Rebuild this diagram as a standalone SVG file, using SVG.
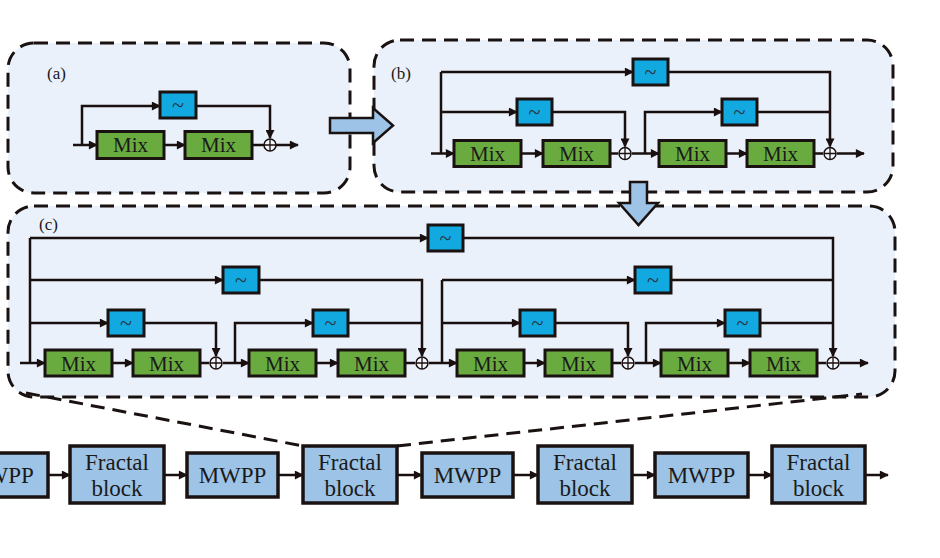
<svg xmlns="http://www.w3.org/2000/svg" width="940" height="558" viewBox="0 0 940 558">
<defs>
<marker id="ah" viewBox="0 0 10 10" refX="9" refY="5" markerWidth="10" markerHeight="9" markerUnits="userSpaceOnUse" orient="auto"><path d="M0,0 L10,5 L0,10 z" fill="#1a0f0f"/></marker>
<style>
.panel{fill:#eaf1fa;stroke:#1a1210;stroke-width:3;stroke-dasharray:14 8}
.dash{fill:none;stroke:#1a1210;stroke-width:3;stroke-dasharray:14 8}
.mix{fill:#6aab40;stroke:#1a1210;stroke-width:3}
.sk{fill:#12a8e0;stroke:#1a1210;stroke-width:3}
.blk{fill:#9dc3e6;stroke:#1a1210;stroke-width:3.5}
.ln{fill:none;stroke:#1a0f0f;stroke-width:2.5}
.ar{fill:none;stroke:#1a0f0f;stroke-width:2.5;marker-end:url(#ah)}
.sum{fill:#f4f7fb;stroke:#1a0f0f;stroke-width:1.5}
.t{font-family:"Liberation Serif",serif;fill:#1a1a1a;text-anchor:middle}
.mt{font-size:21px}
.tt{font-size:22px;fill:#2a3540}
.bt{font-size:23px}
.lab{font-family:"Liberation Serif",serif;font-size:17px;fill:#1a1a1a}
.big{fill:#9dc3e6;stroke:#1a1210;stroke-width:2.5}
</style>
</defs>
<rect width="940" height="558" fill="#ffffff"/>

<g id="panel-a">
<rect class="panel" x="8" y="43" width="342" height="150" rx="26"/>
<text class="lab" x="47" y="79">(a)</text>
</g>
<g id="panel-b">
<rect class="panel" x="374" y="40" width="519" height="152" rx="26"/>
<text class="lab" x="391" y="79">(b)</text>
</g>
<g id="panel-c">
<rect class="panel" x="8" y="206" width="887" height="191" rx="26"/>
<text class="lab" x="39" y="230">(c)</text>
</g>

<g id="connectors">
<!-- panel a -->
<line class="ar" x1="73" y1="145" x2="97" y2="145"/>
<polyline class="ar" points="82,145 82,106 160,106"/>
<polyline class="ar" points="196,106 270,106 270,138"/>
<line class="ar" x1="164" y1="145" x2="185" y2="145"/>
<line class="ln" x1="252" y1="145" x2="264" y2="145"/>
<line class="ar" x1="276" y1="145" x2="298" y2="145"/>
<!-- panel b -->
<line class="ar" x1="431" y1="153.5" x2="454" y2="153.5"/>
<polyline class="ln" points="441,153.5 441,72"/>
<line class="ar" x1="441" y1="72" x2="633" y2="72"/>
<polyline class="ar" points="668,72 830,72 830,146.5"/>
<line class="ar" x1="441" y1="112" x2="517" y2="112"/>
<polyline class="ar" points="552,112 625,112 625,146.5"/>
<line class="ar" x1="521" y1="153.5" x2="543" y2="153.5"/>
<line class="ln" x1="610" y1="153.5" x2="618" y2="153.5"/>
<line class="ar" x1="632" y1="153.5" x2="659" y2="153.5"/>
<polyline class="ar" points="645,153.5 645,112 722,112"/>
<line class="ln" x1="757" y1="112" x2="830" y2="112"/>
<line class="ar" x1="726" y1="153.5" x2="747" y2="153.5"/>
<line class="ln" x1="814" y1="153.5" x2="823" y2="153.5"/>
<line class="ar" x1="837" y1="153.5" x2="864" y2="153.5"/>
<!-- panel c -->
<line class="ar" x1="20" y1="363" x2="45" y2="363"/>
<line class="ln" x1="30" y1="363" x2="30" y2="238"/>
<line class="ar" x1="30" y1="238" x2="428" y2="238"/>
<polyline class="ar" points="463,238 833,238 833,356"/>
<line class="ar" x1="30" y1="280" x2="223" y2="280"/>
<polyline class="ar" points="259,280 422,280 422,356"/>
<line class="ar" x1="30" y1="323" x2="108" y2="323"/>
<polyline class="ar" points="144,323 216,323 216,356"/>
<line class="ar" x1="112" y1="363" x2="133" y2="363"/>
<line class="ln" x1="200" y1="363" x2="209" y2="363"/>
<line class="ar" x1="223" y1="363" x2="249" y2="363"/>
<polyline class="ar" points="235,363 235,323 313,323"/>
<line class="ln" x1="348" y1="323" x2="422" y2="323"/>
<line class="ar" x1="316" y1="363" x2="338" y2="363"/>
<line class="ln" x1="405" y1="363" x2="415" y2="363"/>
<line class="ar" x1="429" y1="363" x2="457" y2="363"/>
<polyline class="ln" points="442,363 442,280"/>
<line class="ar" x1="442" y1="280" x2="635" y2="280"/>
<line class="ln" x1="671" y1="280" x2="833" y2="280"/>
<line class="ar" x1="442" y1="323" x2="520" y2="323"/>
<polyline class="ar" points="555,323 628,323 628,356"/>
<line class="ar" x1="524" y1="363" x2="545" y2="363"/>
<line class="ln" x1="612" y1="363" x2="621" y2="363"/>
<line class="ar" x1="635" y1="363" x2="661" y2="363"/>
<polyline class="ar" points="646,363 646,323 725,323"/>
<line class="ln" x1="760" y1="323" x2="833" y2="323"/>
<line class="ar" x1="728" y1="363" x2="750" y2="363"/>
<line class="ln" x1="817" y1="363" x2="826" y2="363"/>
<line class="ar" x1="840" y1="363" x2="868" y2="363"/>
<!-- bottom row -->
<line class="ar" x1="48" y1="475" x2="70" y2="475"/>
<line class="ar" x1="164" y1="475" x2="187" y2="475"/>
<line class="ar" x1="278" y1="475" x2="303" y2="475"/>
<line class="ar" x1="397" y1="475" x2="422" y2="475"/>
<line class="ar" x1="513" y1="475" x2="538" y2="475"/>
<line class="ar" x1="632" y1="475" x2="655" y2="475"/>
<line class="ar" x1="748" y1="475" x2="772" y2="475"/>
<line class="ar" x1="865" y1="475" x2="888" y2="475"/>
<!-- zoom lines -->
<line class="dash" x1="26" y1="393" x2="303" y2="446"/>
<line class="dash" x1="397" y1="446" x2="862" y2="394"/>
</g>

<g id="sum-nodes">
<g id="sum-a"><circle class="sum" cx="270" cy="145" r="6"/><path class="ln" style="stroke-width:1.3" d="M264,145 h12 M270,139 v12"/></g>
<g id="sum-b1"><circle class="sum" cx="625" cy="153.5" r="6"/><path class="ln" style="stroke-width:1.3" d="M619,153.5 h12 M625,147.5 v12"/></g>
<g id="sum-b2"><circle class="sum" cx="830" cy="153.5" r="6"/><path class="ln" style="stroke-width:1.3" d="M824,153.5 h12 M830,147.5 v12"/></g>
<g id="sum-c1"><circle class="sum" cx="216" cy="363" r="6"/><path class="ln" style="stroke-width:1.3" d="M210,363 h12 M216,357 v12"/></g>
<g id="sum-c2"><circle class="sum" cx="422" cy="363" r="6"/><path class="ln" style="stroke-width:1.3" d="M416,363 h12 M422,357 v12"/></g>
<g id="sum-c3"><circle class="sum" cx="628" cy="363" r="6"/><path class="ln" style="stroke-width:1.3" d="M622,363 h12 M628,357 v12"/></g>
<g id="sum-c4"><circle class="sum" cx="833" cy="363" r="6"/><path class="ln" style="stroke-width:1.3" d="M827,363 h12 M833,357 v12"/></g>
</g>

<!-- panel a nodes -->
<g id="a-mix1"><rect class="mix" x="97" y="131.5" width="67" height="27"/><text class="t mt" x="130.5" y="152">Mix</text></g>
<g id="a-mix2"><rect class="mix" x="185" y="131.5" width="67" height="27"/><text class="t mt" x="218.5" y="152">Mix</text></g>
<g id="a-skip"><rect class="sk" x="160" y="92" width="36" height="26"/><text class="t tt" x="178" y="112">~</text></g>

<!-- panel b nodes -->
<g id="b-mix1"><rect class="mix" x="454" y="140.5" width="67" height="26"/><text class="t mt" x="487.5" y="161">Mix</text></g>
<g id="b-mix2"><rect class="mix" x="543" y="140.5" width="67" height="26"/><text class="t mt" x="576.5" y="161">Mix</text></g>
<g id="b-mix3"><rect class="mix" x="659" y="140.5" width="67" height="26"/><text class="t mt" x="692.5" y="161">Mix</text></g>
<g id="b-mix4"><rect class="mix" x="747" y="140.5" width="67" height="26"/><text class="t mt" x="780.5" y="161">Mix</text></g>
<g id="b-skip1"><rect class="sk" x="517" y="99" width="35" height="26"/><text class="t tt" x="534.5" y="119">~</text></g>
<g id="b-skip2"><rect class="sk" x="722" y="99" width="35" height="26"/><text class="t tt" x="739.5" y="119">~</text></g>
<g id="b-skip3"><rect class="sk" x="633" y="59" width="35" height="26"/><text class="t tt" x="650.5" y="79">~</text></g>

<!-- panel c nodes -->
<g id="c-mix1"><rect class="mix" x="45" y="350" width="67" height="26"/><text class="t mt" x="78.5" y="370.5">Mix</text></g>
<g id="c-mix2"><rect class="mix" x="133" y="350" width="67" height="26"/><text class="t mt" x="166.5" y="370.5">Mix</text></g>
<g id="c-mix3"><rect class="mix" x="249" y="350" width="67" height="26"/><text class="t mt" x="282.5" y="370.5">Mix</text></g>
<g id="c-mix4"><rect class="mix" x="338" y="350" width="67" height="26"/><text class="t mt" x="371.5" y="370.5">Mix</text></g>
<g id="c-mix5"><rect class="mix" x="457" y="350" width="67" height="26"/><text class="t mt" x="490.5" y="370.5">Mix</text></g>
<g id="c-mix6"><rect class="mix" x="545" y="350" width="67" height="26"/><text class="t mt" x="578.5" y="370.5">Mix</text></g>
<g id="c-mix7"><rect class="mix" x="661" y="350" width="67" height="26"/><text class="t mt" x="694.5" y="370.5">Mix</text></g>
<g id="c-mix8"><rect class="mix" x="750" y="350" width="67" height="26"/><text class="t mt" x="783.5" y="370.5">Mix</text></g>
<g id="c-skip1"><rect class="sk" x="108" y="310" width="36" height="26"/><text class="t tt" x="126" y="330">~</text></g>
<g id="c-skip2"><rect class="sk" x="313" y="310" width="35" height="26"/><text class="t tt" x="330.5" y="330">~</text></g>
<g id="c-skip3"><rect class="sk" x="520" y="310" width="35" height="26"/><text class="t tt" x="537.5" y="330">~</text></g>
<g id="c-skip4"><rect class="sk" x="725" y="310" width="35" height="26"/><text class="t tt" x="742.5" y="330">~</text></g>
<g id="c-skip5"><rect class="sk" x="223" y="267" width="36" height="26"/><text class="t tt" x="241" y="287">~</text></g>
<g id="c-skip6"><rect class="sk" x="635" y="267" width="36" height="26"/><text class="t tt" x="653" y="287">~</text></g>
<g id="c-skip7"><rect class="sk" x="428" y="225" width="35" height="26"/><text class="t tt" x="445.5" y="245">~</text></g>

<!-- big arrows -->
<g id="arrow-right"><polygon class="big" points="330,118 373,118 373,108 393,125.5 373,143 373,133 330,133"/></g>
<g id="arrow-down"><polygon class="big" points="630,182 647,182 647,203 658,203 638.5,225 619,203 630,203"/></g>

<!-- bottom row -->
<g id="mwpp0"><rect class="blk" x="-43" y="453" width="91" height="44"/><text class="t bt" x="0" y="483">MWPP</text></g>
<g id="fractal1"><rect class="blk" x="70" y="446" width="94" height="57"/><text class="t bt" x="117" y="470">Fractal</text><text class="t bt" x="117" y="496">block</text></g>
<g id="mwpp1"><rect class="blk" x="187" y="453" width="91" height="44"/><text class="t bt" x="232.5" y="483">MWPP</text></g>
<g id="fractal2"><rect class="blk" x="303" y="446" width="94" height="57"/><text class="t bt" x="350" y="470">Fractal</text><text class="t bt" x="350" y="496">block</text></g>
<g id="mwpp2"><rect class="blk" x="422" y="453" width="91" height="44"/><text class="t bt" x="467.5" y="483">MWPP</text></g>
<g id="fractal3"><rect class="blk" x="538" y="446" width="94" height="57"/><text class="t bt" x="585" y="470">Fractal</text><text class="t bt" x="585" y="496">block</text></g>
<g id="mwpp3"><rect class="blk" x="655" y="453" width="93" height="44"/><text class="t bt" x="701.5" y="483">MWPP</text></g>
<g id="fractal4"><rect class="blk" x="772" y="446" width="93" height="57"/><text class="t bt" x="818.5" y="470">Fractal</text><text class="t bt" x="818.5" y="496">block</text></g>
</svg>
